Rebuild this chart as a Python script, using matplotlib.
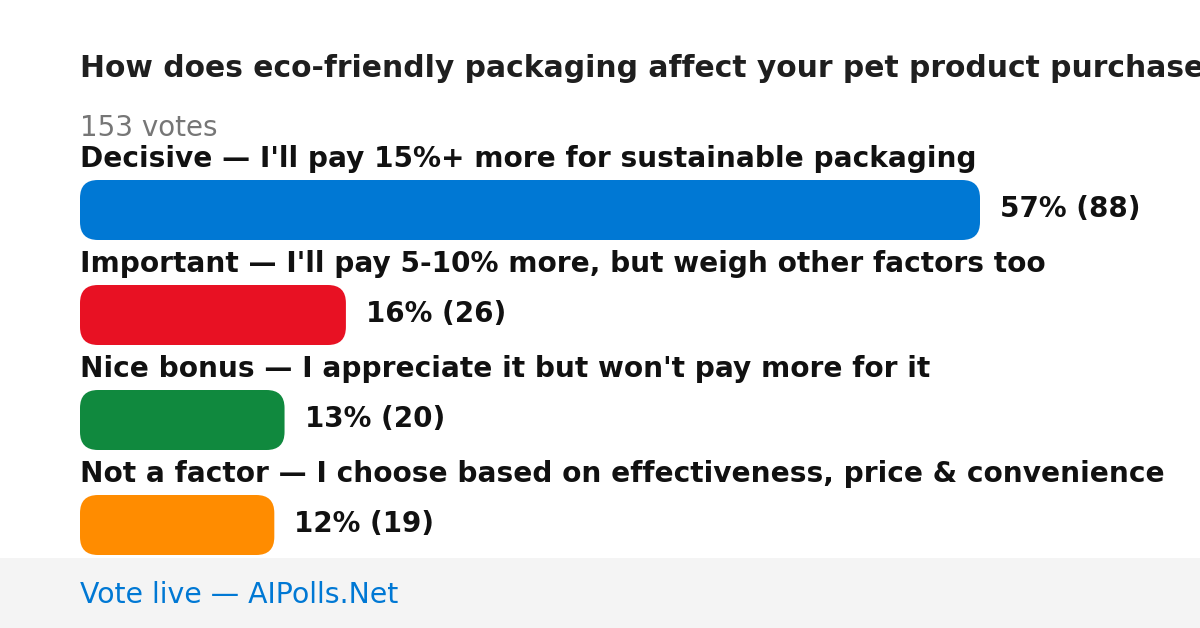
import matplotlib.pyplot as plt
from matplotlib.patches import FancyBboxPatch, Rectangle

title = "How does eco-friendly packaging affect your pet product purchases?"
total_votes = 153
labels = [
    "Decisive \u2014 I'll pay 15%+ more for sustainable packaging",
    "Important \u2014 I'll pay 5-10% more, but weigh other factors too",
    "Nice bonus \u2014 I appreciate it but won't pay more for it",
    "Not a factor \u2014 I choose based on effectiveness, price & convenience",
]
votes = [88, 26, 20, 19]
pcts = [57, 16, 13, 12]
colors = ['#0078D4', '#E81123', '#10893E', '#FF8C00']

W, H = 1200, 628
fig = plt.figure(figsize=(W / 100, H / 100), dpi=100)
ax = fig.add_axes([0, 0, 1, 1])
ax.set_xlim(0, W)
ax.set_ylim(H, 0)
ax.axis('off')

left = 80
full = 900  # width of the biggest bar
top0 = 180
step = 105
bh = 60

# the title runs past the right edge in the original card too
ax.text(left, 77, title, fontsize=21.4, fontweight='bold', color='#1f1f1f', va='baseline')
ax.text(left, 136, f"{total_votes} votes", fontsize=20, color='#767676', va='baseline')

vmax = max(votes)
for i, (lab, v, p, c) in enumerate(zip(labels, votes, pcts, colors)):
    y = top0 + i * step
    w = v / vmax * full
    ax.text(left, y - 13, lab, fontsize=20.2, fontweight='bold', color='#111111', va='baseline')
    bar = FancyBboxPatch((left, y), w, bh, boxstyle="round,pad=0,rounding_size=18",
                         fc=c, ec='none')
    ax.add_patch(bar)
    ax.text(left + w + 20, y + bh / 2 + 7, f"{p}% ({v})", fontsize=20, fontweight='bold',
            color='#111111', va='baseline')

ax.add_patch(Rectangle((0, 558), W, H - 558, fc='#f4f4f4', ec='none'))
ax.text(left, 603, "Vote live \u2014 AIPolls.Net", fontsize=20.4, color='#0078D4', va='baseline')

fig.savefig('out.png', dpi=100)
